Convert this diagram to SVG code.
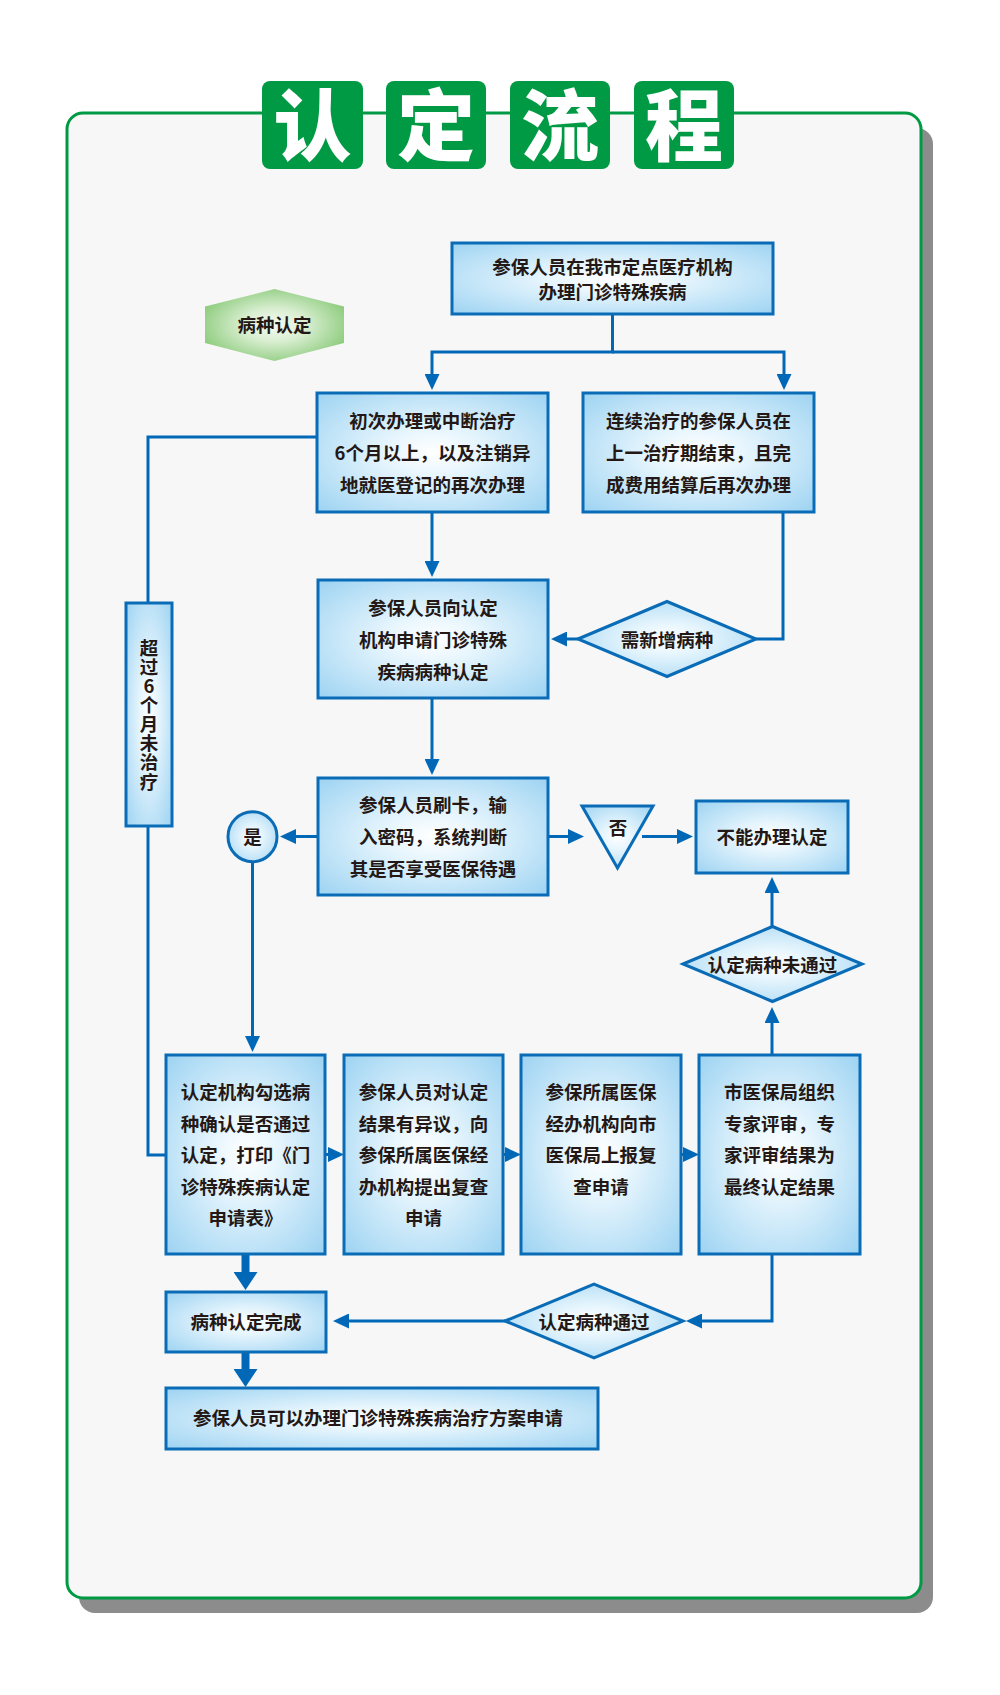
<svg xmlns="http://www.w3.org/2000/svg" width="1000" height="1695" viewBox="0 0 1000 1695">
<defs>
<style>
.box{fill:url(#bg);stroke:#0a6cb6;stroke-width:3}
.t{font-family:"Noto Sans CJK SC","Noto Sans CJK JP",sans-serif;font-weight:bold;font-size:18.5px;fill:#231815;text-anchor:middle}
.v{writing-mode:vertical-rl;text-orientation:upright;letter-spacing:0.6px}
.ttl{font-family:"Noto Sans CJK SC","Noto Sans CJK JP",sans-serif;font-weight:900;font-size:78px;fill:#ffffff;text-anchor:middle}
.c{fill:none;stroke:#0068b7;stroke-width:3}
.ca{fill:none;stroke:#0068b7;stroke-width:3;marker-end:url(#arr)}
.ct{fill:none;stroke:#0068b7;stroke-width:8;marker-end:url(#arrT)}
.tb{fill:#009a44}
</style>
<radialGradient id="bg" cx="0.5" cy="0.5" r="0.7">
<stop offset="0" stop-color="#ffffff"/>
<stop offset="0.3" stop-color="#e6f5fd"/>
<stop offset="1" stop-color="#9dd3f2"/>
</radialGradient>
<radialGradient id="gg" cx="0.5" cy="0.5" r="0.65">
<stop offset="0" stop-color="#f6fbf3"/>
<stop offset="0.35" stop-color="#d9eed1"/>
<stop offset="1" stop-color="#78c266"/>
</radialGradient>
<marker id="arr" viewBox="0 0 16 15" refX="4" refY="7.5" markerWidth="16" markerHeight="15" markerUnits="userSpaceOnUse" orient="auto">
<path d="M0,0 L16,7.5 L0,15 Z" fill="#0068b7"/>
</marker>
<marker id="arrT" viewBox="0 0 18 24" refX="2" refY="12" markerWidth="18" markerHeight="24" markerUnits="userSpaceOnUse" orient="auto">
<path d="M0,0 L18,12 L0,24 Z" fill="#0068b7"/>
</marker>
</defs>
<rect width="1000" height="1695" fill="#ffffff"/>
<g id="panel">
<rect x="79" y="128" width="854" height="1485" rx="16" fill="#8c8c8c"/>
<rect x="67" y="113" width="854" height="1485" rx="16" fill="#f7f7f7" stroke="#009a44" stroke-width="3"/>
</g>
<g id="title">
<rect class="tb" x="262" y="81" width="101" height="88" rx="8"/>
<rect class="tb" x="386" y="81" width="100" height="88" rx="8"/>
<rect class="tb" x="510" y="81" width="100" height="88" rx="8"/>
<rect class="tb" x="634" y="81" width="100" height="88" rx="8"/>
<text class="ttl" x="312.5" y="155">认</text>
<text class="ttl" x="436" y="155">定</text>
<text class="ttl" x="560" y="155">流</text>
<text class="ttl" x="684" y="155">程</text>
</g>
<g id="connectors">
<path class="ca" d="M612.5,314 V352 H432 V378"/>
<path class="ca" d="M612.5,352 H784 V378"/>
<path class="c" d="M317,437 H148 V1155 H166"/>
<path class="ca" d="M432,512 V565"/>
<path class="c" d="M783,512 V639 H756"/>
<path class="ca" d="M578,639 H563"/>
<path class="ca" d="M432,698 V763"/>
<path class="ca" d="M318,836.5 H292"/>
<path class="ca" d="M548,836.5 H572"/>
<path class="ca" d="M642,836.5 H681"/>
<path class="ca" d="M252.5,862 V1040"/>
<path class="ca" d="M772,1055 V1019"/>
<path class="ca" d="M772,927 V889"/>
<path class="ca" d="M325,1154.5 H332"/>
<path class="ca" d="M503,1154.5 H509"/>
<path class="ca" d="M681,1154.5 H687"/>
<path class="ct" d="M245.5,1254 V1274"/>
<path class="ct" d="M245.5,1352 V1371"/>
<path class="ca" d="M772,1254 V1321 H698"/>
<path class="ca" d="M505,1321 H345"/>
</g>
<g id="n-start">
<rect class="box" x="452" y="243" width="321" height="71"/>
<text class="t" x="612.5" y="274">参保人员在我市定点医疗机构</text>
<text class="t" x="612.5" y="299">办理门诊特殊疾病</text>
</g>
<g id="n-label">
<polygon points="274.5,289 344,306.5 344,343 274.5,361 205,343 205,306.5" fill="url(#gg)"/>
<text class="t" x="274.5" y="332">病种认定</text>
</g>
<g id="n-first">
<rect class="box" x="317" y="393" width="231" height="119"/>
<text class="t" x="432.5" y="428">初次办理或中断治疗</text>
<text class="t" x="432.5" y="460">6个月以上，以及注销异</text>
<text class="t" x="432.5" y="492">地就医登记的再次办理</text>
</g>
<g id="n-cont">
<rect class="box" x="583" y="393" width="231" height="119"/>
<text class="t" x="698.5" y="428">连续治疗的参保人员在</text>
<text class="t" x="698.5" y="460">上一治疗期结束，且完</text>
<text class="t" x="698.5" y="492">成费用结算后再次办理</text>
</g>
<g id="n-over6">
<rect class="box" x="126" y="603" width="46" height="223"/>
<text class="t v" x="149" y="715">超过6个月未治疗</text>
</g>
<g id="n-apply">
<rect class="box" x="318" y="580" width="230" height="118"/>
<text class="t" x="433" y="615">参保人员向认定</text>
<text class="t" x="433" y="647">机构申请门诊特殊</text>
<text class="t" x="433" y="679">疾病病种认定</text>
</g>
<g id="n-newdisease">
<polygon class="box" points="578,639 667,601.5 756,639 667,676.5"/>
<text class="t" x="667" y="647">需新增病种</text>
</g>
<g id="n-card">
<rect class="box" x="318" y="778" width="230" height="117"/>
<text class="t" x="433" y="812">参保人员刷卡，输</text>
<text class="t" x="433" y="844">入密码，系统判断</text>
<text class="t" x="433" y="876">其是否享受医保待遇</text>
</g>
<g id="n-yes">
<ellipse class="box" cx="252.5" cy="836.7" rx="24.5" ry="25"/>
<text class="t" x="252.5" y="844">是</text>
</g>
<g id="n-no">
<polygon class="box" points="582,806 653,806 617.5,868"/>
<text class="t" x="618" y="835">否</text>
</g>
<g id="n-cannot">
<rect class="box" x="696" y="801" width="152" height="72"/>
<text class="t" x="772" y="844">不能办理认定</text>
</g>
<g id="n-fail">
<polygon class="box" points="683,964 772.5,926.5 862,964 772.5,1001.5"/>
<text class="t" x="772.5" y="972">认定病种未通过</text>
</g>
<g id="n-print">
<rect class="box" x="166" y="1055" width="159" height="199"/>
<text class="t" x="245.5" y="1099">认定机构勾选病</text>
<text class="t" x="245.5" y="1130.6">种确认是否通过</text>
<text class="t" x="245.5" y="1162.2">认定，打印《门</text>
<text class="t" x="245.5" y="1193.8">诊特殊疾病认定</text>
<text class="t" x="245.5" y="1225.4">申请表》</text>
</g>
<g id="n-objection">
<rect class="box" x="344" y="1055" width="159" height="199"/>
<text class="t" x="423.5" y="1099">参保人员对认定</text>
<text class="t" x="423.5" y="1130.6">结果有异议，向</text>
<text class="t" x="423.5" y="1162.2">参保所属医保经</text>
<text class="t" x="423.5" y="1193.8">办机构提出复查</text>
<text class="t" x="423.5" y="1225.4">申请</text>
</g>
<g id="n-report">
<rect class="box" x="521" y="1055" width="160" height="199"/>
<text class="t" x="601" y="1099">参保所属医保</text>
<text class="t" x="601" y="1130.6">经办机构向市</text>
<text class="t" x="601" y="1162.2">医保局上报复</text>
<text class="t" x="601" y="1193.8">查申请</text>
</g>
<g id="n-expert">
<rect class="box" x="699" y="1055" width="161" height="199"/>
<text class="t" x="779.5" y="1099">市医保局组织</text>
<text class="t" x="779.5" y="1130.6">专家评审，专</text>
<text class="t" x="779.5" y="1162.2">家评审结果为</text>
<text class="t" x="779.5" y="1193.8">最终认定结果</text>
</g>
<g id="n-pass">
<polygon class="box" points="505,1321 594,1284 683,1321 594,1358"/>
<text class="t" x="594" y="1329">认定病种通过</text>
</g>
<g id="n-done">
<rect class="box" x="166" y="1292" width="160" height="60"/>
<text class="t" x="246" y="1329">病种认定完成</text>
</g>
<g id="n-final">
<rect class="box" x="166" y="1388" width="432" height="61"/>
<text class="t" x="378" y="1425">参保人员可以办理门诊特殊疾病治疗方案申请</text>
</g>
</svg>
